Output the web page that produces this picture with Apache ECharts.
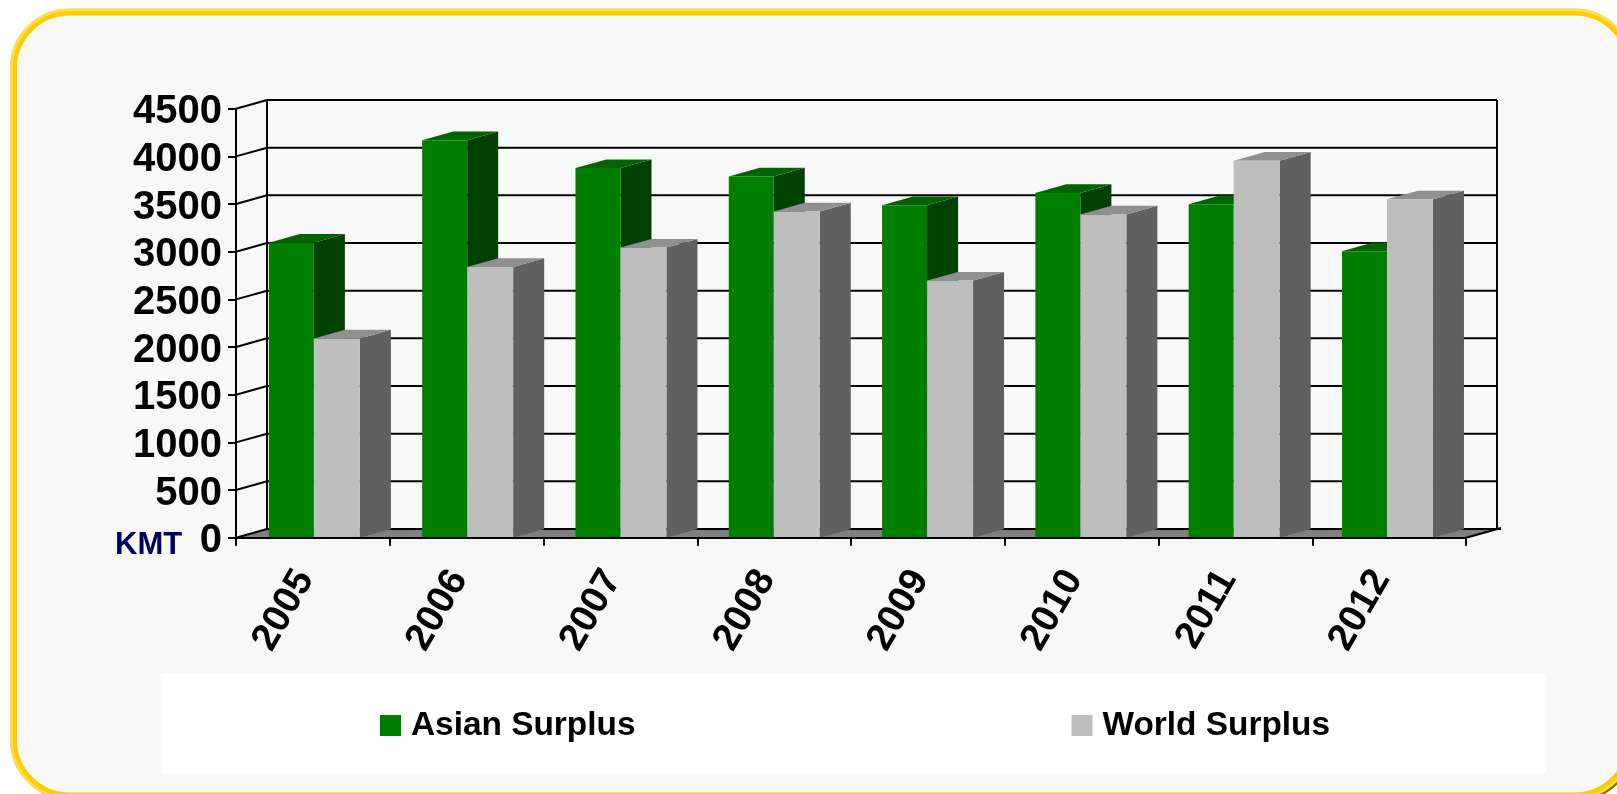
<!DOCTYPE html>
<html>
<head>
<meta charset="utf-8">
<style>html,body{margin:0;padding:0;background:#fff;overflow:hidden}#c{width:1617px;height:794px}</style>
<script src="https://cdn.jsdelivr.net/npm/echarts@6/dist/echarts.min.js"></script>
</head>
<body>
<div id="c"></div>
<script>
const categories = ['2005','2006','2007','2008','2009','2010','2011','2012'];
const asianSurplus = [3095,4170,3877,3790,3487,3617,3498,3006];
const worldSurplus = [2090,2840,3043,3422,2697,3390,3954,3549];
const yTicks = [0,500,1000,1500,2000,2500,3000,3500,4000,4500];

const DX = 31, DY = 8.7, DRIFT = -0.45;
const FONT = '"Liberation Sans", Arial, sans-serif';

function poly(points, fill){
  return {type:'polygon', shape:{points}, style:{fill, stroke:null}, silent:true};
}
function barRenderer(offset, width, front, side, top){
  return function(params, api){
    const idx = api.value(0), val = api.value(1);
    const p = api.coord([idx, val]);
    const b = api.coord([idx, 0]);
    const l = p[0] + offset + DRIFT*idx, r = l + width, t = p[1], y0 = b[1];
    return {type:'group', children:[
      poly([[r,y0],[r+DX,y0-DY],[r+DX,t-DY],[r,t]], side),
      poly([[l,t],[l+DX,t-DY],[r+DX,t-DY],[r,t]], top),
      poly([[l,y0],[r,y0],[r,t],[l,t]], front)
    ]};
  };
}
function wallRenderer(params, api){
  const v = api.value(0);
  const a = api.coord([0, v]);
  const x0 = api.coord([0, 0])[0] - api.size([1,0])[0]/2;
  const x1 = x0 + api.size([1,0])[0]*categories.length;
  const lineStyle = {stroke:'#000', lineWidth:2, fill:null};
  return {type:'polyline', silent:true, shape:{points:[[x0,a[1]],[x0+DX,a[1]-DY],[x1+DX,a[1]-DY]]}, style:lineStyle};
}
function frameRenderer(params, api){
  const band = api.size([1,0])[0];
  const x0 = api.coord([0, 0])[0] - band/2;
  const x1 = x0 + band*categories.length;
  const y0 = api.coord([0, yTicks[0]])[1];
  const yT = api.coord([0, yTicks[yTicks.length-1]])[1];
  const ls = {stroke:'#000', lineWidth:2, fill:null};
  return {type:'group', silent:true, children:[
    poly([[x0,y0],[x0+DX,y0-DY],[x1+DX,y0-DY],[x1,y0]], '#808080'),
    {type:'polyline', shape:{points:[[x0+DX,yT-DY],[x0+DX,y0-DY]]}, style:ls},
    {type:'polyline', shape:{points:[[x1+DX,yT-DY],[x1+DX,y0-DY]]}, style:ls},
    {type:'polyline', shape:{points:[[x0,y0],[x0+DX,y0-DY],[x1+DX+4,y0-DY]]}, style:ls},
    {type:'polyline', shape:{points:[[x1,y0],[x1+DX+4,y0-DY-1]]}, style:ls}
  ]};
}

const chart = echarts.init(document.getElementById('c'), null, {renderer:'canvas'});
chart.setOption({
  animation:false,
  backgroundColor:'#ffffff',
  grid:{left:236, top:108.7, width:1230, height:429, containLabel:false},
  xAxis:{type:'category', data:categories, z:5,
    boundaryGap:true,
    axisLine:{show:true, lineStyle:{color:'#000', width:2}},
    axisTick:{show:true, alignWithLabel:false, length:8, lineStyle:{color:'#000', width:2}},
    splitLine:{show:false},
    axisLabel:{interval:0, rotate:60, margin:40, verticalAlign:'bottom', lineHeight:18, color:'#000', fontFamily:FONT, fontWeight:'bold', fontSize:38.5}
  },
  yAxis:{type:'value', min:0, max:4500, interval:500, z:5,
    axisLine:{show:true, lineStyle:{color:'#000', width:2}},
    axisTick:{show:true, length:8, lineStyle:{color:'#000', width:2}},
    splitLine:{show:false},
    axisLabel:{margin:14, verticalAlign:'top', lineHeight:7, color:'#000', fontFamily:FONT, fontWeight:'bold', fontSize:40, formatter:(v)=>String(v)}
  },
  legend:{data:['Asian Surplus','World Surplus'], left:380, top:709, padding:0, icon:'rect', itemWidth:21, itemHeight:21,
    itemGap:436, z:10, selectedMode:false,
    textStyle:{color:'#000', fontFamily:FONT, fontWeight:'bold', fontSize:33.4, padding:[2,0,0,5]}
  },
  graphic:[
    {type:'rect', z:-30, silent:true, shape:{x:15.5,y:14.5,width:1617,height:784,r:56}, style:{fill:null,stroke:'#8a6d00',lineWidth:5}},
    {type:'rect', z:-20, silent:true, shape:{x:13.5,y:12,width:1617,height:784,r:56}, style:{fill:'#F8F8F8',stroke:'#FFCC00',lineWidth:7}},
    {type:'rect', z:-19, silent:true, shape:{x:11.5,y:10,width:1621,height:788,r:58}, style:{fill:null,stroke:'#FFDD55',lineWidth:2.5}},
    {type:'rect', z:-10, silent:true, shape:{x:161,y:674,width:1385,height:99}, style:{fill:'#ffffff'}},
    {type:'text', z:10, silent:true, x:115, y:530, style:{text:'KMT', fill:'#000060', font:'bold 31px '+FONT}}
  ],
  series:[
    {type:'custom', name:'frame', data:[[0]], clip:false, z:1, renderItem:frameRenderer, encode:{x:-1,y:-1}, silent:true},
    {type:'custom', name:'wall', data:yTicks.slice(1).map(v=>[v]), clip:false, z:1, renderItem:wallRenderer, encode:{x:-1,y:0}, silent:true},
    {type:'custom', name:'Asian Surplus', data:categories.map((c,i)=>[i,asianSurplus[i]]), clip:false, z:2,
      itemStyle:{color:'#007E00'}, encode:{x:0,y:1},
      renderItem:barRenderer(-44,45,'#007E00','#004000','#006400')},
    {type:'custom', name:'World Surplus', data:categories.map((c,i)=>[i,worldSurplus[i]]), clip:false, z:3,
      itemStyle:{color:'#BEBEBE'}, encode:{x:0,y:1},
      renderItem:barRenderer(1,46,'#BEBEBE','#606060','#909090')}
  ]
});
</script>
</body>
</html>
